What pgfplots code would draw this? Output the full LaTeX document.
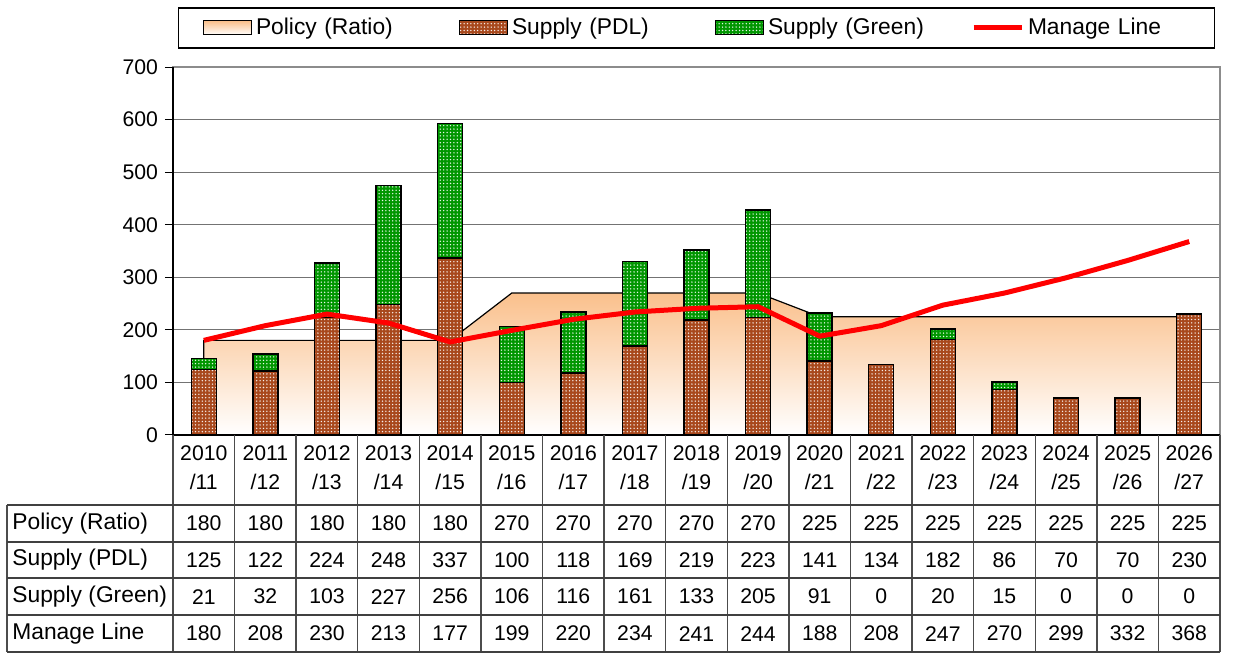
\documentclass[border=0pt]{standalone}
\usepackage{pgfplots}
\pgfplotsset{compat=1.18}
\usepackage{pgfplotstable}
\usepackage{fontspec}
\setmainfont{Liberation Sans}
\usetikzlibrary{patterns.meta}

\definecolor{pdlbrown}{RGB}{168,72,28}
\definecolor{greenbar}{RGB}{0,150,0}
\definecolor{peach}{RGB}{250,192,140}

\pgfdeclarepattern{
  name=finedots,
  type=uncolored,
  bottom left={\pgfpoint{-0.1pt}{-0.1pt}},
  top right={\pgfpoint{1.8pt}{1.8pt}},
  tile size={\pgfpoint{1.7pt}{1.7pt}},
  code={\pgfpathcircle{\pgfpoint{0.85pt}{0.85pt}}{0.38pt}\pgfusepath{fill}}
}

\pgfplotstableread{
x policy pdl green manage
0 180 125 21 180
1 180 122 32 208
2 180 224 103 230
3 180 248 227 213
4 180 337 256 177
5 270 100 106 199
6 270 118 116 220
7 270 169 161 234
8 270 219 133 241
9 270 223 205 244
10 225 141 91 188
11 225 134 0 208
12 225 182 20 247
13 225 86 15 270
14 225 70 0 299
15 225 70 0 332
16 225 230 0 368
}\datatable

\newcommand{\tfont}{\fontsize{10.6}{12.5}\selectfont}
\newcommand{\lfont}{\fontsize{11.4}{13}\selectfont}

\pgfplotsset{base/.style={
  scale only axis, width=523.5pt, height=184pt,
  at={(0pt,0pt)}, anchor=south west,
  xmin=-0.5, xmax=16.5, ymin=0, ymax=700,
}}

\begin{document}
\begin{tikzpicture}[x=1pt,y=1pt]
\useasboundingbox (-86.5,-116.5) rectangle (530.5,217.5);

% background axis: grid, ticks, policy area
\begin{axis}[base,
  ytick={0,100,...,700}, xtick=\empty, ytick pos=left,
  ymajorgrids, grid style={black!55, line width=0.5pt},
  axis line style={black!45, line width=0.8pt},
  tick align=outside, major tick length=4pt,
  ytick style={black, line width=0.5pt},
  yticklabel style={font=\tfont},
  /pgf/number format/assume math mode=true,
]
\addplot[draw=black, line width=0.6pt, top color=peach, bottom color=white]
  table[x=x,y=policy]{\datatable} \closedcycle;
\end{axis}

% bars
\begin{axis}[base, hide axis, ybar stacked, bar width=12.5pt]
\addplot[fill=pdlbrown, draw=black, line width=0.7pt,
  postaction={pattern=finedots, pattern color=white!92!pdlbrown}]
  table[x=x,y=pdl]{\datatable};
\addplot[fill=greenbar, draw=black, line width=0.7pt,
  postaction={pattern=finedots, pattern color=white!92!greenbar}]
  table[x=x,y=green]{\datatable};
\end{axis}

% line + legend
\begin{axis}[base, hide axis,
  legend columns=4,
  legend style={at={(0.5,1.106)}, anchor=center, draw=black, line width=0.8pt,
    font=\lfont, inner xsep=12.25pt, inner ysep=3pt,
    nodes={text width=79pt, align=left, inner xsep=2pt, line width=0.4pt},
    /tikz/every even column/.append style={column sep=20.5pt}},
]
\addlegendimage{/pgfplots/legend image code/.code={\draw[draw=black, line width=0.5pt, top color=peach, bottom color=white] (0pt,-3.5pt) rectangle (24pt,3.5pt);}}
\addlegendentry{Policy (Ratio)}
\addlegendimage{/pgfplots/legend image code/.code={\draw[draw=black, line width=0.5pt, fill=pdlbrown, postaction={pattern=finedots, pattern color=white!92!pdlbrown}] (0pt,-3.5pt) rectangle (24pt,3.5pt);}}
\addlegendentry{Supply (PDL)}
\addlegendimage{/pgfplots/legend image code/.code={\draw[draw=black, line width=0.5pt, fill=greenbar, postaction={pattern=finedots, pattern color=white!92!greenbar}] (0pt,-3.5pt) rectangle (24pt,3.5pt);}}
\addlegendentry{Supply (Green)}
\addplot[red, line width=2.5pt, mark=none,
  legend image code/.code={\draw[red, line width=2.5pt] (0pt,0pt) -- (24pt,0pt);}]
  table[x=x,y=manage]{\datatable};
\addlegendentry{Manage Line}
\end{axis}

% left and bottom axis lines in black
\draw[black, line width=0.8pt] (0,184) -- (0,0) -- (523.5,0);

% data table
\pgfmathsetmacro{\cw}{523.5/17}
\foreach \k in {0,...,17} {
  \draw[black!70, line width=0.7pt] ({\k*\cw},0) -- ({\k*\cw},-108.5);
}
\draw[black!70, line width=0.7pt] (-83,-35) -- (-83,-108.5);
\foreach \yy in {-35,-53.5,-71.5,-90,-108.5} {
  \draw[black!75, line width=0.7pt] (-83,\yy) -- (523.5,\yy);
}
\node[anchor=west, font=\lfont, inner sep=0pt] at (-80.5,-44.2) {Policy (Ratio)};
\node[anchor=west, font=\lfont, inner sep=0pt] at (-80.5,-62.5) {Supply (PDL)};
\node[anchor=west, font=\lfont, inner sep=0pt] at (-80.5,-80.8) {Supply (Green)};
\node[anchor=west, font=\lfont, inner sep=0pt] at (-80.5,-99.3) {Manage Line};
\foreach \i in {0,...,16} {
  \pgfmathtruncatemacro{\yra}{2010+\i}
  \pgfmathtruncatemacro{\yrb}{11+\i}
  \node[font=\tfont, inner sep=0pt] at ({(\i+0.5)*\cw},-9) {\yra};
  \node[font=\tfont, inner sep=0pt] at ({(\i+0.5)*\cw},-23.5) {/\yrb};
  \pgfplotstablegetelem{\i}{policy}\of\datatable
  \node[font=\tfont, inner sep=0pt] at ({(\i+0.5)*\cw},-44.2) {\pgfplotsretval};
  \pgfplotstablegetelem{\i}{pdl}\of\datatable
  \node[font=\tfont, inner sep=0pt] at ({(\i+0.5)*\cw},-62.5) {\pgfplotsretval};
  \pgfplotstablegetelem{\i}{green}\of\datatable
  \node[font=\tfont, inner sep=0pt] at ({(\i+0.5)*\cw},-80.8) {\pgfplotsretval};
  \pgfplotstablegetelem{\i}{manage}\of\datatable
  \node[font=\tfont, inner sep=0pt] at ({(\i+0.5)*\cw},-99.3) {\pgfplotsretval};
}
\end{tikzpicture}
\end{document}
